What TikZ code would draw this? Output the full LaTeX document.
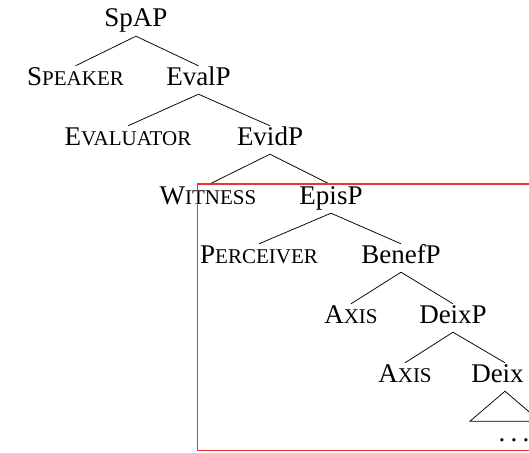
\documentclass[tikz,border=0pt]{standalone}
\usepackage{fontspec}
\setmainfont{Liberation Serif}
\definecolor{framered}{RGB}{240,50,50}
\newcommand\fsc[2]{#1{\fontsize{21}{21}\selectfont #2}}
\begin{document}
\begin{tikzpicture}[x=1pt,y=-1pt,
  lab/.style={anchor=base,inner sep=0pt,text height=19pt,text depth=9pt,font=\fontsize{27}{27}\selectfont},
  edge/.style={draw,line width=0.75pt},
  frame/.style={draw=framered,line width=1.2pt}]
\useasboundingbox (0,0) rectangle (529,452);
\node[lab] (spap) at (136,27) {SpAP};
\node[lab] (speaker) at (75.5,85) {\fsc{S}{PEAKER}};
\node[lab] (evalp) at (198.5,85) {EvalP};
\node[lab] (evaluator) at (128,145) {\fsc{E}{VALUATOR}};
\node[lab] (evidp) at (270,145) {EvidP};
\node[lab] (witness) at (208,204) {\fsc{W}{ITNESS}};
\node[lab] (episp) at (331,204) {EpisP};
\node[lab] (perceiver) at (259,263) {\fsc{P}{ERCEIVER}};
\node[lab] (benefp) at (401,263) {BenefP};
\node[lab] (axisa) at (351,323) {\fsc{A}{XIS}};
\node[lab] (deixp) at (453,323) {DeixP};
\node[lab] (axisb) at (405,382) {\fsc{A}{XIS}};
\node[lab] (deix) at (505,382) {Deix\phantom{P}};
\node[lab] (dots) at (514,441) {.\kern5.25pt.\kern5.25pt.};
\draw[edge] (spap.south) -- (speaker.north);
\draw[edge] (spap.south) -- (evalp.north);
\draw[edge] (evalp.south) -- (evaluator.north);
\draw[edge] (evalp.south) -- (evidp.north);
\draw[edge] (evidp.south) -- (witness.north);
\draw[edge] (evidp.south) -- (episp.north);
\draw[edge] (episp.south) -- (perceiver.north);
\draw[edge] (episp.south) -- (benefp.north);
\draw[edge] (benefp.south) -- (axisa.north);
\draw[edge] (benefp.south) -- (deixp.north);
\draw[edge] (deixp.south) -- (axisb.north);
\draw[edge] (deixp.south) -- (deix.north);
\draw[edge] (deix.south) -- ++(-35,30) -- ++(70,0) -- cycle;
\draw[frame] (197.5,184) rectangle (570,450.5);
\end{tikzpicture}
\end{document}
